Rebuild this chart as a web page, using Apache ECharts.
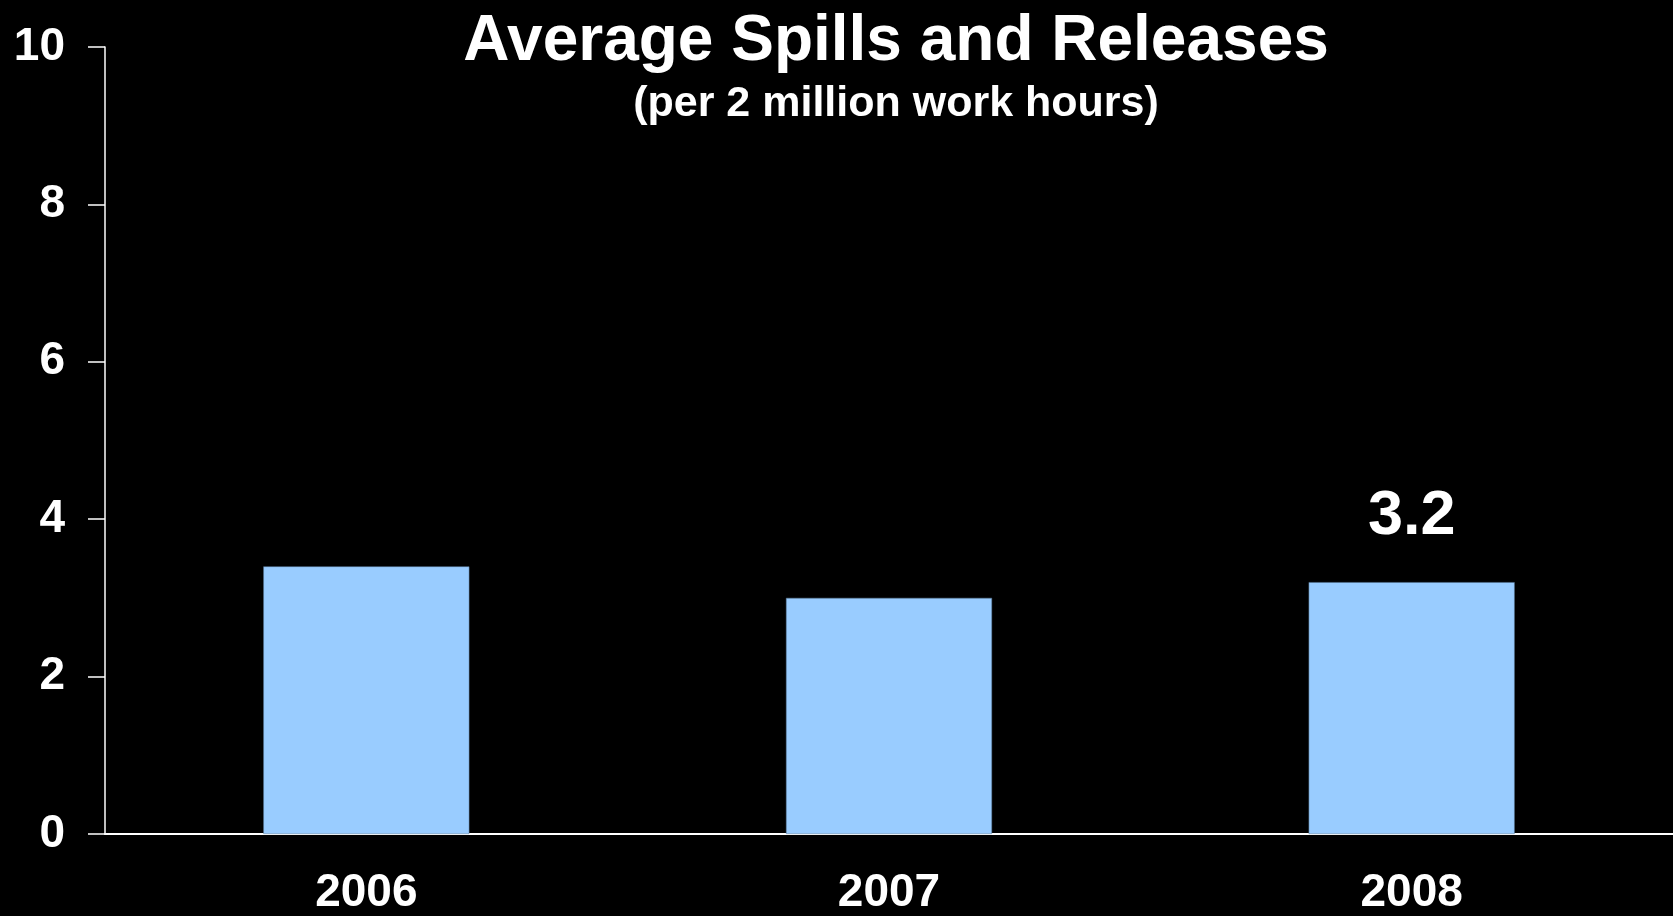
<!DOCTYPE html>
<html>
<head>
<meta charset="utf-8">
<script src="https://cdn.jsdelivr.net/npm/echarts@6/dist/echarts.min.js"></script>
<style>
html,body{margin:0;padding:0;background:#000;}
#chart{width:1673px;height:916px;}
</style>
</head>
<body>
<div id="chart"></div>
<script>
const categories = ['2006', '2007', '2008'];
const values = [3.4, 3.0, 3.2];
const labelShown = [false, false, true];
const yTicks = { min: 0, max: 10, interval: 2 };
const titleText = 'Average Spills and Releases';
const subtitleText = '(per 2 million work hours)';

const font = '"Liberation Sans", Arial, sans-serif';
const chart = echarts.init(document.getElementById('chart'));
chart.setOption({
  backgroundColor: '#000',
  animation: false,
  title: [
    { text: titleText, left: 891, top: 5, textAlign: 'center',
      textStyle: { color: '#fff', fontFamily: font, fontWeight: 'bold', fontSize: 64, lineHeight: 64 } },
    { text: subtitleText, left: 891, top: 78, textAlign: 'center',
      textStyle: { color: '#fff', fontFamily: font, fontWeight: 'bold', fontSize: 43, lineHeight: 43 } }
  ],
  grid: { left: 105, right: 0, top: 47, bottom: 82, containLabel: false },
  xAxis: {
    type: 'category',
    data: categories,
    axisLine: { show: true, lineStyle: { color: '#fff', width: 2 } },
    axisTick: { show: false },
    axisLabel: { color: '#fff', fontFamily: font, fontWeight: 'bold', fontSize: 46, lineHeight: 46, margin: 36 },
    splitLine: { show: false }
  },
  yAxis: {
    type: 'value',
    min: yTicks.min, max: yTicks.max, interval: yTicks.interval,
    axisLine: { show: true, lineStyle: { color: '#fff', width: 1.5 } },
    axisTick: { show: true, length: 17, lineStyle: { color: '#fff', width: 1.5 } },
    axisLabel: { color: '#fff', fontFamily: font, fontWeight: 'bold', fontSize: 46, margin: 40 },
    splitLine: { show: false }
  },
  series: [{
    type: 'bar',
    barWidth: 206,
    data: values.map((v, i) => ({
      value: v,
      label: {
        show: labelShown[i], position: 'top', distance: 34,
        color: '#fff', fontFamily: font, fontWeight: 'bold', fontSize: 63
      }
    })),
    itemStyle: { color: '#99CCFF', borderColor: '#5a7a99', borderWidth: 0.5 }
  }]
});
</script>
</body>
</html>
